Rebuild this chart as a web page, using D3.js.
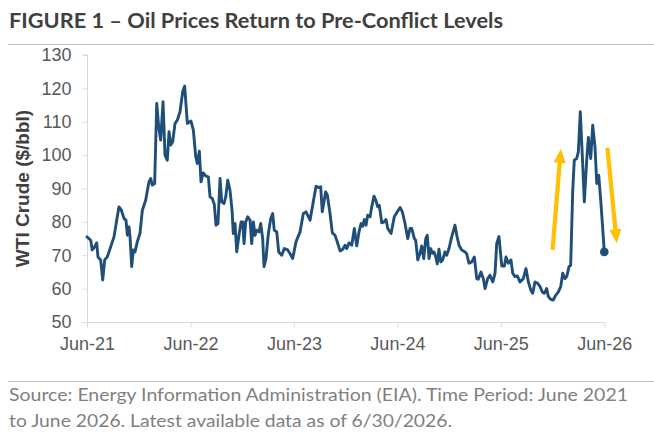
<!DOCTYPE html>
<html><head><meta charset="utf-8">
<script src="https://cdn.jsdelivr.net/npm/d3@7"></script>
<style>
html,body{margin:0;padding:0;background:#fff;}
svg{display:block;}
</style></head>
<body>
<svg id="chart" width="654" height="438"></svg>
<script>
// ---- data ----
const years = [
2021.500,2021.536,2021.551,2021.574,2021.594,2021.606,2021.632,2021.652,2021.671,2021.696,
2021.729,2021.761,2021.787,2021.809,2021.832,2021.858,2021.877,2021.890,2021.906,2021.916,
2021.932,2021.948,2021.964,2021.986,2022.012,2022.035,2022.067,2022.099,2022.116,2022.131,
2022.154,2022.174,2022.193,2022.212,2022.235,2022.254,2022.276,2022.293,2022.309,2022.328,
2022.351,2022.373,2022.399,2022.425,2022.444,2022.470,2022.505,2022.528,2022.551,2022.566,
2022.586,2022.602,2022.624,2022.650,2022.673,2022.689,2022.711,2022.730,2022.747,2022.766,
2022.786,2022.802,2022.824,2022.841,2022.860,2022.882,2022.902,2022.914,2022.931,2022.947,
2022.969,2022.989,2023.005,2023.018,2023.034,2023.053,2023.076,2023.092,2023.108,2023.124,
2023.140,2023.163,2023.179,2023.198,2023.211,2023.230,2023.253,2023.276,2023.295,2023.310,
2023.334,2023.353,2023.382,2023.407,2023.440,2023.462,2023.488,2023.520,2023.559,2023.591,
2023.617,2023.656,2023.687,2023.714,2023.736,2023.759,2023.774,2023.807,2023.823,2023.849,
2023.871,2023.897,2023.919,2023.946,2023.972,2023.994,2024.010,2024.033,2024.059,2024.084,
2024.107,2024.129,2024.149,2024.165,2024.180,2024.197,2024.213,2024.236,2024.252,2024.274,
2024.294,2024.310,2024.325,2024.349,2024.371,2024.390,2024.407,2024.439,2024.470,2024.509,
2024.526,2024.548,2024.574,2024.600,2024.622,2024.639,2024.664,2024.677,2024.697,2024.719,
2024.735,2024.755,2024.774,2024.789,2024.806,2024.822,2024.838,2024.854,2024.871,2024.886,
2024.902,2024.919,2024.938,2024.960,2024.977,2024.999,2025.025,2025.057,2025.074,2025.096,
2025.122,2025.154,2025.170,2025.192,2025.219,2025.244,2025.267,2025.282,2025.308,2025.331,
2025.347,2025.373,2025.395,2025.422,2025.444,2025.460,2025.482,2025.509,2025.534,2025.550,
2025.572,2025.598,2025.615,2025.637,2025.659,2025.685,2025.717,2025.743,2025.766,2025.789,
2025.808,2025.830,2025.856,2025.879,2025.901,2025.920,2025.943,2025.959,2025.982,2026.007,
2026.030,2026.056,2026.079,2026.098,2026.120,2026.137,2026.159,2026.175,2026.195,2026.210,
2026.233,2026.249,2026.268,2026.288,2026.307,2026.330,2026.346,2026.369,2026.388,2026.410,
2026.427,2026.446,2026.468,2026.500
];
const wti = [
75.5,74.5,71.6,72.5,73.7,69.5,68.6,62.6,68.6,69.5,
72.5,75.5,80.5,84.5,83.5,81.0,80.5,76.0,78.5,75.5,
66.6,71.6,71.0,74.0,76.5,83.5,86.5,92.0,93.0,91.0,
91.5,115.5,108.5,104.5,116.0,100.0,98.5,107.0,103.0,104.0,
109.5,110.5,113.0,119.0,120.7,109.5,110.2,107.5,99.5,97.5,
101.2,92.0,94.7,93.7,93.5,87.5,87.0,85.3,79.0,79.5,
93.0,86.0,85.5,87.5,92.5,89.5,83.5,76.5,79.5,71.0,
76.0,80.0,80.0,73.5,80.0,81.5,80.5,73.5,80.0,76.0,
77.5,77.0,79.5,75.0,66.6,69.0,76.5,81.0,82.5,77.5,
77.0,71.0,70.0,72.0,71.6,70.5,69.0,74.0,77.0,82.5,
83.0,80.5,86.0,90.7,90.3,90.5,83.0,89.0,88.0,82.5,
76.7,76.0,74.0,71.3,71.8,73.0,72.0,73.7,73.0,78.0,
72.8,77.0,79.5,78.7,80.7,79.0,82.0,81.5,84.5,87.7,
86.3,84.5,85.0,79.7,80.0,80.7,78.0,76.5,81.5,83.5,
84.3,83.0,79.5,75.0,78.0,78.0,75.0,74.5,68.6,70.6,
72.8,69.0,75.0,76.0,69.0,72.0,70.6,71.0,69.5,67.4,
71.8,68.0,68.6,71.0,70.0,72.0,75.5,79.0,76.0,73.0,
71.6,71.0,70.4,67.6,68.0,69.5,63.0,62.8,65.0,63.0,
60.0,63.0,64.0,62.0,64.6,73.5,75.6,66.8,66.8,69.5,
67.6,68.6,64.6,63.6,63.8,62.0,63.0,66.0,62.0,59.6,
58.6,62.0,61.6,60.6,59.0,58.6,60.0,57.6,56.8,56.6,
58.0,59.0,60.6,64.6,63.0,63.6,66.6,67.0,89.5,98.5,
99.0,101.0,113.0,99.5,86.0,98.5,105.3,99.0,109.0,102.5,
91.5,94.0,85.5,71.0
];
const tickYears  = [2021.5, 2022.5, 2023.5, 2024.5, 2025.5, 2026.5];
const tickLabels = ["Jun-21","Jun-22","Jun-23","Jun-24","Jun-25","Jun-26"];
const yTicks     = [50, 60, 70, 80, 90, 100, 110, 120, 130];
// annotation arrows: [startYear, startValue, endYear, endValue]
const arrowUp   = [2026.00, 71.6, 2026.08, 101.9];
const arrowDown = [2026.53, 102.2, 2026.62, 73.6];

const titleText = "FIGURE 1 \u2013 Oil Prices Return to Pre-Conflict Levels";
const yLabel = "WTI Crude ($/bbl)";
const source1 = "Source: Energy Information Administration (EIA). Time Period: June 2021";
const source2 = "to June 2026. Latest available data as of 6/30/2026.";

// ---- drawing ----
const svg = d3.select("#chart");
const x = d3.scaleLinear().domain([2021.5, 2026.5]).range([87, 604.3]);
const y = d3.scaleLinear().domain([50, 130]).range([322, 55]);

const axisColor = "#d9d9d9";
const labelColor = "#595959";

// title
svg.append("text").attr("x", 9).attr("y", 28)
  .attr("font-family", "Lato, 'Open Sans', sans-serif").attr("font-weight", 700)
  .attr("font-size", 21).attr("fill", "#404040")
  .attr("textLength", 494).attr("lengthAdjust", "spacingAndGlyphs")
  .text(titleText);
svg.append("line").attr("x1", 8).attr("x2", 654).attr("y1", 44.5).attr("y2", 44.5)
  .attr("stroke", "#bfbfbf").attr("stroke-width", 1.2);

// y axis
const yAxis = d3.axisLeft(y).tickValues(yTicks).tickSize(5).tickPadding(11);
const gy = svg.append("g").attr("transform", "translate(87.5,0)").call(yAxis);
gy.select(".domain").attr("stroke", axisColor).attr("d", `M-5,${y(130)}H0V${y(50)}`);
gy.selectAll(".tick line").attr("stroke", axisColor);
gy.selectAll(".tick text").attr("font-family", "'Liberation Sans', Arial, sans-serif")
  .attr("font-size", 18).attr("fill", labelColor);

// x axis
const xAxis = d3.axisBottom(x).tickValues(tickYears)
  .tickFormat((d, i) => tickLabels[i]).tickSize(5).tickPadding(10);
const gx = svg.append("g").attr("transform", "translate(0,322.5)").call(xAxis);
gx.select(".domain").attr("stroke", axisColor).attr("d", `M82,0H${x(2026.5)}`);
gx.selectAll(".tick line").attr("stroke", axisColor);
gx.selectAll(".tick text").attr("font-family", "'Liberation Sans', Arial, sans-serif")
  .attr("font-size", 18).attr("fill", labelColor);

// y axis title
svg.append("text")
  .attr("transform", `translate(29,${y(90)}) rotate(-90)`)
  .attr("text-anchor", "middle")
  .attr("font-family", "'Liberation Sans', Arial, sans-serif").attr("font-weight", 700)
  .attr("font-size", 19).attr("fill", "#404040")
  .text(yLabel);

// line
const data = years.map((t, i) => ({t, v: wti[i]}));
const line = d3.line().x(d => x(d.t)).y(d => y(d.v));
svg.append("path").datum(data).attr("d", line)
  .attr("fill", "none").attr("stroke", "#1f4e79").attr("stroke-width", 2.9)
  .attr("stroke-linejoin", "round").attr("stroke-linecap", "round");
const last = data[data.length - 1];
svg.append("circle").attr("cx", x(last.t)).attr("cy", y(last.v)).attr("r", 4.3)
  .attr("fill", "#1f4e79");

// arrows
function drawArrow(a) {
  const x1 = x(a[0]), y1 = y(a[1]), x2 = x(a[2]), y2 = y(a[3]);
  const dx = x2 - x1, dy = y2 - y1, len = Math.hypot(dx, dy);
  const ux = dx / len, uy = dy / len, px = -uy, py = ux;
  const headL = 14, headW = 6, shaftW = 2.1;
  const bx = x2 - ux * headL, by = y2 - uy * headL;
  const pts = [
    [x1 + px * shaftW, y1 + py * shaftW],
    [bx + px * shaftW, by + py * shaftW],
    [bx + px * headW, by + py * headW],
    [x2, y2],
    [bx - px * headW, by - py * headW],
    [bx - px * shaftW, by - py * shaftW],
    [x1 - px * shaftW, y1 - py * shaftW]
  ];
  svg.append("polygon").attr("points", pts.map(p => p.join(",")).join(" "))
    .attr("fill", "#ffc000");
}
drawArrow(arrowUp);
drawArrow(arrowDown);

// source
svg.append("line").attr("x1", 8).attr("x2", 654).attr("y1", 381.5).attr("y2", 381.5)
  .attr("stroke", "#bfbfbf").attr("stroke-width", 1.2);
svg.append("text").attr("x", 9).attr("y", 401)
  .attr("font-family", "Lato, 'Open Sans', sans-serif").attr("font-size", 17)
  .attr("fill", "#7f7f7f").attr("textLength", 619).attr("lengthAdjust", "spacingAndGlyphs")
  .text(source1);
svg.append("text").attr("x", 9).attr("y", 427)
  .attr("font-family", "Lato, 'Open Sans', sans-serif").attr("font-size", 17)
  .attr("fill", "#7f7f7f").attr("textLength", 443).attr("lengthAdjust", "spacingAndGlyphs")
  .text(source2);
</script>
</body></html>
